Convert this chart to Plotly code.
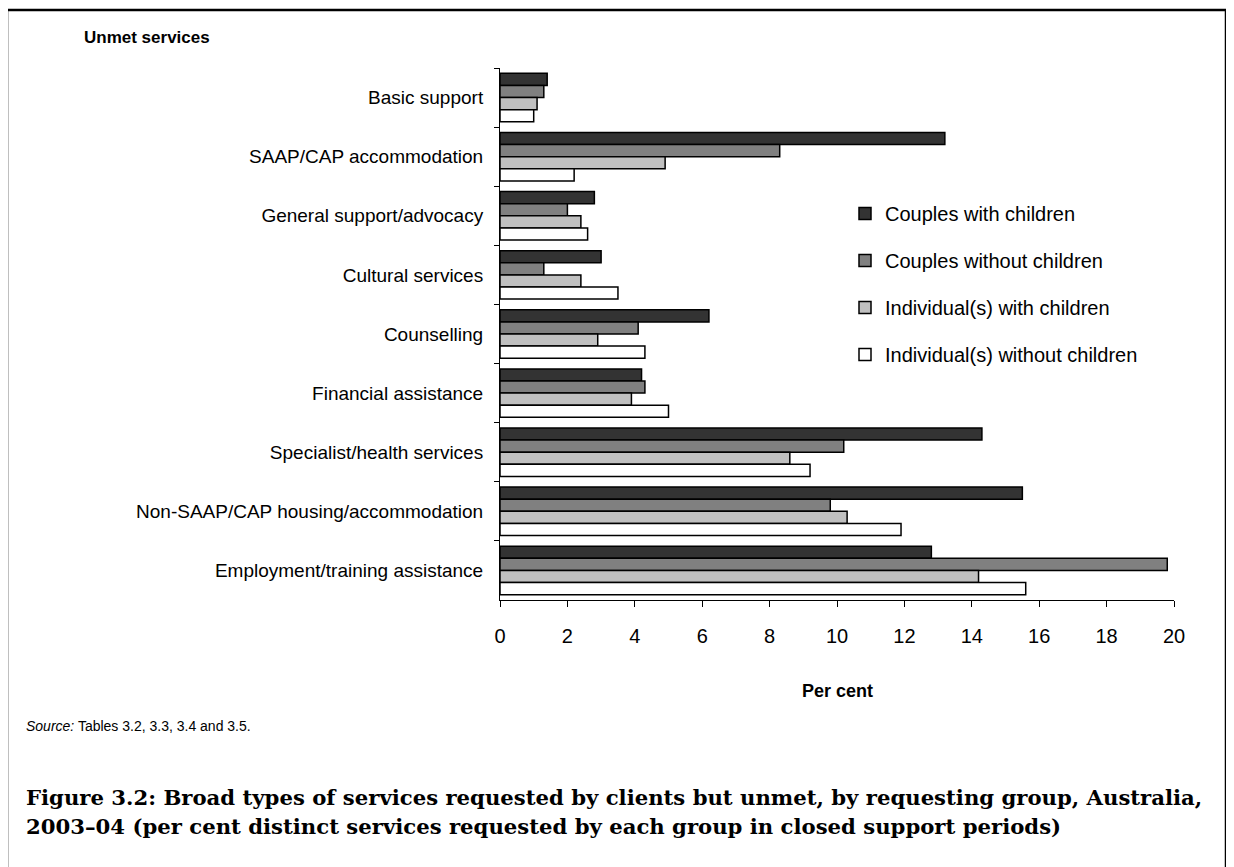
import plotly.graph_objects as go

categories = [
    "Basic support",
    "SAAP/CAP accommodation",
    "General support/advocacy",
    "Cultural services",
    "Counselling",
    "Financial assistance",
    "Specialist/health services",
    "Non-SAAP/CAP housing/accommodation",
    "Employment/training assistance",
]
couples_with_children = [1.4, 13.2, 2.8, 3.0, 6.2, 4.2, 14.3, 15.5, 12.8]
couples_without_children = [1.3, 8.3, 2.0, 1.3, 4.1, 4.3, 10.2, 9.8, 19.8]
individuals_with_children = [1.1, 4.9, 2.4, 2.4, 2.9, 3.9, 8.6, 10.3, 14.2]
individuals_without_children = [1.0, 2.2, 2.6, 3.5, 4.3, 5.0, 9.2, 11.9, 15.6]

series_names = [
    "Couples with children",
    "Couples without children",
    "Individual(s) with children",
    "Individual(s) without children",
]
series_values = [
    couples_with_children,
    couples_without_children,
    individuals_with_children,
    individuals_without_children,
]
series_colors = ["#333333", "#808080", "#c0c0c0", "#ffffff"]
x_ticks = [0, 2, 4, 6, 8, 10, 12, 14, 16, 18, 20]

OFF = 8  # page body margin
W, H = 1234 - OFF, 867 - OFF
PL, PR, PT, PB = 500, 1174, 68, 600  # target screen coordinates


def px(x):
    return (x - PL) / (PR - PL)


def py(y):
    return (PB - y) / (PB - PT)


fig = go.Figure()
for i, (name, vals, col) in enumerate(zip(series_names, series_values, series_colors)):
    fig.add_trace(go.Bar(
        y=categories, x=vals, name=name, orientation="h",
        marker=dict(color=col, line=dict(color="#000000", width=1.5)),
        legendgroup=f"g{i}",
    ))

font = "Liberation Sans, Arial, sans-serif"
fig.update_layout(
    width=W, height=H,
    margin=dict(l=PL - OFF, r=W - (PR - OFF), t=PT - OFF, b=H - (PB - OFF), autoexpand=False),
    paper_bgcolor="white", plot_bgcolor="white",
    barmode="group", bargap=0.18, bargroupgap=0,
    font=dict(family=font, size=19, color="#000000"),
    showlegend=True,
    legend=dict(
        x=px(845), y=py(194), xanchor="left", yanchor="top",
        font=dict(size=20, family=font), tracegroupgap=18,
        bgcolor="rgba(0,0,0,0)", itemwidth=30,
    ),
    xaxis=dict(
        range=[0, 20], tickvals=x_ticks, showgrid=False, zeroline=False,
        showline=True, linecolor="#000000", linewidth=1,
        ticks="outside", ticklen=6, tickcolor="#000000",
        tickfont=dict(size=20, family=font), ticklabelstandoff=12,
    ),
    yaxis=dict(
        autorange="reversed", showgrid=False, zeroline=False,
        showline=True, linecolor="#000000", linewidth=1,
        ticks="outside", ticklen=5, tickcolor="#000000", tickson="boundaries",
        tickfont=dict(size=19, family=font), ticklabelstandoff=12,
    ),
)

annotations = [
    dict(text="<b>Unmet services</b>", x=px(82), y=py(38), xanchor="left", yanchor="middle",
         font=dict(size=17, family=font)),
    dict(text="<b>Per cent</b>", x=px(837), y=py(691), xanchor="center", yanchor="middle",
         font=dict(size=18, family=font)),
    dict(text="<i>Source:</i> Tables 3.2, 3.3, 3.4 and 3.5.", x=px(24), y=py(726),
         xanchor="left", yanchor="middle", font=dict(size=14, family=font)),
    dict(text="<b>Figure 3.2: Broad types of services requested by clients but unmet, by requesting group, Australia,</b>",
         x=px(24), y=py(797), xanchor="left", yanchor="middle",
         font=dict(size=21.2, family="DejaVu Serif, serif")),
    dict(text="<b>2003–04 (per cent distinct services requested by each group in closed support periods)</b>",
         x=px(24), y=py(826), xanchor="left", yanchor="middle",
         font=dict(size=21.2, family="DejaVu Serif, serif")),
]
for a in annotations:
    a.update(xref="paper", yref="paper", showarrow=False)
    fig.add_annotation(**a)

frame = [
    (7, 10, 7, 867),
    (7, 10, 1234, 10),
    (1226, 10, 1226, 867),
]
for x0, y0, x1, y1 in frame:
    fig.add_shape(type="line", xref="paper", yref="paper",
                  x0=px(x0), y0=py(y0), x1=px(x1), y1=py(y1),
                  line=dict(color="#000000", width=2.5))

fig.write_html("out.html")
